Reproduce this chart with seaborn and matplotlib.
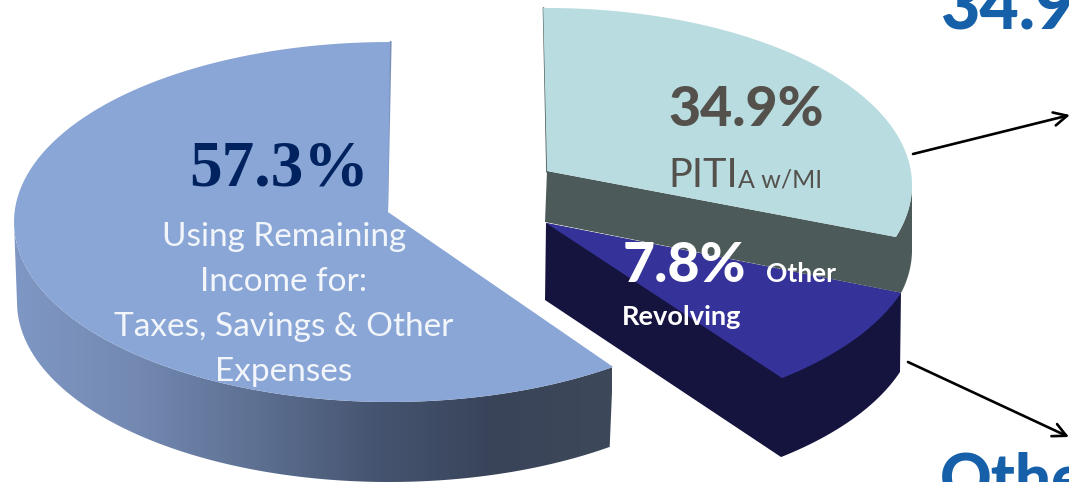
import numpy as np
import matplotlib
matplotlib.use("Agg")
import matplotlib.pyplot as plt
import seaborn as sns
from matplotlib.patches import Polygon

# chart values
slice_names = ["Remaining", "PITI", "Other Revolving"]
shares = [57.3, 34.9, 7.8]
share_labels = ["57.3%", "34.9%", "7.8%"]
remaining_lines = ["Using Remaining", "Income for:", "Taxes, Savings & Other", "Expenses"]

sns.set_theme(style="white")
plt.rcParams["font.family"] = ["Lato", "DejaVu Sans"]

fig = plt.figure(figsize=(10.69, 4.82), dpi=100)
ax = fig.add_axes([0, 0, 1, 1])
ax.set_xlim(0, 1069)
ax.set_ylim(482, 0)
ax.axis("off")


def arc(cx, cy, a, b, start, end, n=120):
    # screen y points down, so the sine is subtracted
    t = np.radians(np.linspace(start, end, n))
    return np.column_stack([cx + a * np.cos(t), cy - b * np.sin(t)])


def span(share, stretch):
    # the tilted pie squeezes the angles, so each slice has its own stretch
    return share * 3.6 * stretch


# left slice, 57.3%
start = 90
end = start + span(shares[0], 1.049)
top = np.vstack([[[388, 212]], arc(390, 222, 376, 180, start, end)])
wall = np.vstack([arc(390, 222, 376, 180, 180, end),
                  arc(389, 302, 372, 180, end, 180)])
wall_patch = Polygon(wall, closed=True, fc="none", ec="none")
ax.add_patch(wall_patch)
wall_cmap = sns.blend_palette(
    ["#7f97c4", "#7389b2", "#5e7193", "#465571", "#39445a", "#3d4859"],
    as_cmap=True
)
img = ax.imshow(
    np.linspace(0, 1, 300).reshape(1, -1),
    cmap=wall_cmap,
    extent=[14, 612, 482, 220],
    aspect="auto",
    zorder=1
)
img.set_clip_path(wall_patch)
ax.set_xlim(0, 1069)
ax.set_ylim(482, 0)
ax.plot([390.5, 387], [42, 210], color="#7a90b8", lw=1.6, zorder=1)
ax.add_patch(Polygon(top, closed=True, fc="#8aa6d6", ec="none", zorder=2))

# teal slice, 34.9%
start = 90.6
end = start - span(shares[1], 0.857)
teal = np.vstack([[[547, 171]], arc(547, 185, 365, 177, start, end)])
side = np.vstack([[[547, 171]],
                  arc(547, 185, 365, 177, end, 0),
                  arc(547, 250, 365, 177, 0, -14),
                  [[545, 222]]])
ax.add_patch(Polygon(side, closed=True, fc="#4d5a5a", ec="none", zorder=2))
ax.plot([543.5, 547], [8, 172], color="#4d5a5a", lw=1.2, zorder=2)
ax.add_patch(Polygon(teal, closed=True, fc="#b8dcdf", ec="none", zorder=3))

# dark slice, 7.8%
start = -17.9
end = start - span(shares[2], 1.172)
front = arc(547, 237, 372, 182, start, end)
dark_top = np.vstack([[[546, 223]], front])
dark_wall = np.vstack([[[546, 223]], [[545, 300]],
                       arc(546, 316, 372, 182, end, start),
                       front[0:1]])
ax.add_patch(Polygon(dark_wall, closed=True, fc="#15143f", ec="none", zorder=3))
ax.add_patch(Polygon(dark_top, closed=True, fc="#353299", ec="none", zorder=4))

# arrows out to the cut off callouts
for tip, tail in [((1070, 115), (913, 154)), ((1069, 437), (908, 362))]:
    ax.annotate("", xy=tip, xytext=tail, annotation_clip=False,
                arrowprops=dict(arrowstyle="->", color="black", lw=1.9,
                                mutation_scale=24, shrinkA=0, shrinkB=0))

# labels
ax.text(189, 185, share_labels[0], family="Liberation Serif", weight="bold",
        fontsize=47, color="#00235f", va="baseline", zorder=6)
for y, line in zip([237, 282, 327, 372], remaining_lines):
    ax.text(284, y, line, fontsize=24, color="#f2f6fb", ha="center",
            va="center", zorder=6)

ax.text(668, 126, share_labels[1], weight=900, fontsize=40,
        color="#54514c", va="baseline", zorder=6)
ax.text(668, 187, "PITI", fontsize=28.5, color="#54514c", va="baseline", zorder=6)
ax.text(738, 187, "A w/MI", fontsize=18, color="#54514c", va="baseline", zorder=6)

ax.text(623, 282, share_labels[2], weight=900, fontsize=40,
        color="white", va="baseline", zorder=6)
ax.text(766, 282, "Other", weight="bold", fontsize=19,
        color="white", va="baseline", zorder=6)
ax.text(622, 325, "Revolving", weight="bold", fontsize=19.5,
        color="white", va="baseline", zorder=6)

ax.text(940, 30, "34.9%", weight=900, fontsize=49, color="#1560a8",
        va="baseline", zorder=6)
ax.text(940, 499, "Other", weight=900, fontsize=46, color="#1560a8",
        va="baseline", zorder=6)

fig.savefig("out.png", dpi=100)
plt.close(fig)
